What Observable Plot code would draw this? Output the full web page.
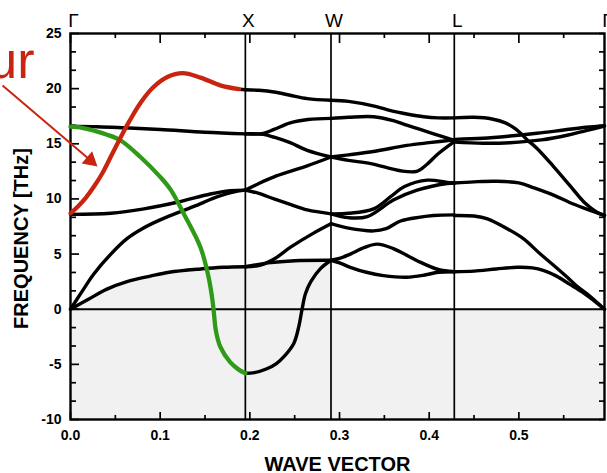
<!DOCTYPE html>
<html><head><meta charset="utf-8">
<script src="https://cdn.jsdelivr.net/npm/d3@7"></script>
<script src="https://cdn.jsdelivr.net/npm/@observablehq/plot@0.6"></script>
<style>html,body{margin:0;padding:0;background:#fff}svg{display:block}</style>
</head><body><div id="chart"></div>
<script>
// ---- axis / labels ----
const symLabels = ["Γ", "X", "W", "L", "Γ"];
const symX = [0, 0.195, 0.2905, 0.428, 0.5955];
const xDomain = [0, 0.5955];
const yDomain = [-10, 25];
const xLabelTicks = [0, 0.1, 0.2, 0.3, 0.4, 0.5];
const xMinorTicks = [0.05, 0.15, 0.25, 0.35, 0.45, 0.55];
const yLabelTicks = [-10, -5, 0, 5, 10, 15, 20, 25];
const yMinorTicks = [-25/3, -20/3, -10/3, -5/3, 5/3, 10/3, 20/3, 25/3, 35/3, 40/3, 50/3, 55/3, 65/3, 70/3];
const xTitle = "WAVE VECTOR";
const yTitle = "FREQUENCY [THz]";

// ---- highlighted branches (Γ–X) ----
const redBranch = [[0,8.7],[0.008,9.3],[0.017,10.1],[0.026,11.1],[0.036,12.4],[0.046,14.0],[0.056,15.6],[0.066,17.1],[0.078,18.7],[0.092,20.1],[0.108,21.05],[0.125,21.4],[0.145,21.0],[0.167,20.3],[0.188,19.95]];
const greenBranch = [[0,16.55],[0.013,16.45],[0.026,16.2],[0.04,15.85],[0.056,15.3],[0.078,13.8],[0.1,12.0],[0.112,10.8],[0.126,8.7],[0.145,5.6],[0.154,2.9],[0.158,1.0],[0.160,-0.4],[0.162,-1.9],[0.167,-3.4],[0.178,-4.8],[0.188,-5.5],[0.195,-5.8]];

// ---- black branches ----
const gxTail = [[0.188,19.95],[0.195,19.9]];
const gxC = [[0,16.6],[0.03,16.55],[0.06,16.45],[0.1,16.3],[0.15,16.05],[0.195,15.9]];
const gxD = [[0,8.6],[0.045,8.7],[0.082,9.1],[0.119,9.7],[0.156,10.45],[0.178,10.75],[0.195,10.8]];
const gxE = [[0,0],[0.012,1.5],[0.026,3.2],[0.045,5.0],[0.063,6.4],[0.08,7.3],[0.1,8.1],[0.137,9.3],[0.164,10.2],[0.18,10.6],[0.195,10.8]];
const gxF = [[0,0],[0.02,0.9],[0.04,1.8],[0.063,2.5],[0.089,3.0],[0.11,3.35],[0.145,3.65],[0.17,3.8],[0.195,3.85]];

const xwTop = [[0.195,19.9],[0.21,19.85],[0.227,19.7],[0.245,19.4],[0.264,19.1],[0.2905,18.95]];
const xwUp = [[0.195,15.9],[0.215,15.95],[0.227,16.3],[0.245,16.9],[0.265,17.2],[0.2905,17.3]];
const xwDown = [[0.195,15.9],[0.215,15.85],[0.227,15.6],[0.245,15.1],[0.264,14.4],[0.2905,13.8]];
const xwRise = [[0.195,10.8],[0.21,11.4],[0.227,12.0],[0.245,12.5],[0.264,13.0],[0.2905,13.8]];
const xwFall = [[0.195,10.8],[0.21,10.5],[0.227,10.0],[0.245,9.5],[0.264,9.0],[0.2905,8.65]];
const xwMid = [[0.195,3.85],[0.212,4.0],[0.228,4.6],[0.245,5.6],[0.271,6.9],[0.2905,7.75]];
const xwFlat = [[0.195,3.85],[0.22,4.2],[0.25,4.4],[0.2905,4.44]];
const xwSoft = [[0.195,-5.8],[0.205,-5.75],[0.219,-5.4],[0.23,-4.9],[0.238,-4.3],[0.249,-3.1],[0.2545,-1.6],[0.258,-0.1],[0.262,1.4],[0.268,2.5],[0.279,3.7],[0.2905,4.44]];

const wlTop = [[0.2905,18.95],[0.31,18.85],[0.34,18.4],[0.357,18.0],[0.375,17.7],[0.394,17.45],[0.41,17.35],[0.428,17.35]];
const wl17 = [[0.2905,17.3],[0.31,17.4],[0.338,17.45],[0.36,17.1],[0.375,16.7],[0.39,16.3],[0.405,15.9],[0.428,15.3]];
const wl13up = [[0.2905,13.8],[0.31,14.0],[0.338,14.3],[0.375,14.85],[0.4,15.1],[0.428,15.35]];
const wl13dip = [[0.2905,13.8],[0.31,13.5],[0.335,13.2],[0.368,12.55],[0.386,12.5],[0.397,13.1],[0.41,14.1],[0.428,15.2]];
const wl8a = [[0.2905,8.65],[0.31,8.7],[0.338,9.1],[0.357,10.2],[0.372,11.1],[0.398,11.7],[0.42,11.5],[0.428,11.45]];
const wl8b = [[0.2905,8.65],[0.31,8.3],[0.331,8.4],[0.36,9.9],[0.3865,10.8],[0.42,11.4],[0.428,11.45]];
const wl7 = [[0.2905,7.75],[0.31,7.35],[0.338,7.1],[0.352,7.3],[0.368,8.0],[0.39,8.35],[0.405,8.5],[0.428,8.55]];
const wl4bump = [[0.2905,4.44],[0.3,4.6],[0.312,5.0],[0.328,5.6],[0.342,5.9],[0.36,5.5],[0.3865,4.4],[0.41,3.6],[0.428,3.4]];
const wl4low = [[0.2905,4.44],[0.3,4.2],[0.312,3.8],[0.33,3.35],[0.349,3.05],[0.375,2.9],[0.395,3.1],[0.41,3.35],[0.428,3.4]];

const lgTop = [[0.428,17.35],[0.45,17.4],[0.47,17.25],[0.485,16.9],[0.497,16.3],[0.51,15.3],[0.52,14.6],[0.538,13.0],[0.556,11.3],[0.574,9.6],[0.587,8.8],[0.5955,8.5]];
const lg15a = [[0.428,15.4],[0.46,15.5],[0.49,15.7],[0.52,15.95],[0.55,16.25],[0.575,16.5],[0.5955,16.65]];
const lg15b = [[0.428,15.15],[0.46,15.05],[0.49,15.1],[0.525,15.35],[0.555,15.8],[0.575,16.2],[0.5955,16.6]];
const lg11 = [[0.428,11.45],[0.45,11.55],[0.475,11.6],[0.5,11.45],[0.517,11.0],[0.54,10.3],[0.556,9.7],[0.575,9.1],[0.5955,8.5]];
const lg8 = [[0.428,8.5],[0.45,8.45],[0.465,8.2],[0.487,7.3],[0.505,6.4],[0.524,5.0],[0.54,3.9],[0.554,2.9],[0.566,2.0],[0.576,1.4],[0.5955,0]];
const lg3 = [[0.428,3.4],[0.45,3.45],[0.475,3.65],[0.498,3.8],[0.515,3.75],[0.528,3.5],[0.542,3.0],[0.556,2.3],[0.57,1.6],[0.58,1.0],[0.5955,0]];

// ---- annotation ----
const noteText = ["ur"];
const notePos = [[-0.0401, 20.92]];
const arrowFrom = [-0.0758, 20.29];
const arrowHead = [0.0222, 13.5];

// ---- build tables ----
const toRows = (id, pts) => pts.map(([x, y]) => ({id, x, y}));
const blackSets = {gxTail, gxC, gxD, gxE, gxF, xwTop, xwUp, xwDown, xwRise, xwFall, xwMid, xwFlat, xwSoft,
  wlTop, wl17, wl13up, wl13dip, wl8a, wl8b, wl7, wl4bump, wl4low, lgTop, lg15a, lg15b, lg11, lg8, lg3};
const blackRows = Object.entries(blackSets).flatMap(([k, v]) => toRows(k, v));
const redRows = toRows("red", redBranch);
const greenRows = toRows("green", greenBranch);
const shadeRows = [...toRows("s", gxF), ...toRows("s", xwFlat.slice(1))];

const H = 473, W = 607, mL = 70, mR = 3, mT = 33, mB = 54;
const plotH = H - mT - mB, plotW = W - mL - mR;
const RED = "#c9240f", GREEN = "#2f9a18";

const chart = Plot.plot({
  width: W, height: H,
  marginLeft: mL, marginRight: mR, marginTop: mT, marginBottom: mB,
  x: {domain: xDomain},
  y: {domain: yDomain},
  style: {fontFamily: "'Liberation Sans', Arial, sans-serif", background: "#fff", color: "#000", overflow: "visible"},
  marks: [
    Plot.areaY(xDomain.map(x => ({x})), {x: "x", y1: yDomain[0], y2: 0, fill: "#f1f1f1"}),
    Plot.areaY(shadeRows, {x: "x", y1: 0, y2: "y", fill: "#f1f1f1", curve: "catmull-rom"}),
    Plot.ruleY([0], {stroke: "#000", strokeWidth: 2}),
    Plot.ruleX(symX.slice(1, 4), {stroke: "#000", strokeWidth: 1.7}),
    // inward ticks
    Plot.ruleX(xLabelTicks, {x: d => d, insetTop: plotH - 7, strokeWidth: 1.7}),
    Plot.ruleX(xMinorTicks, {x: d => d, insetTop: plotH - 4, strokeWidth: 1.7}),
    Plot.ruleX(xLabelTicks, {x: d => d, insetBottom: plotH - 10, strokeWidth: 1.7}),
    Plot.ruleX(xMinorTicks, {x: d => d, insetBottom: plotH - 5, strokeWidth: 1.7}),
    Plot.ruleY(yLabelTicks, {y: d => d, insetRight: plotW - 9, strokeWidth: 1.7}),
    Plot.ruleY(yMinorTicks, {y: d => d, insetRight: plotW - 6, strokeWidth: 1.7}),
    Plot.ruleY([...yLabelTicks, ...yMinorTicks], {y: d => d, insetLeft: plotW - 5, strokeWidth: 1.7}),
    Plot.frame({stroke: "#000", strokeWidth: 2.4}),
    // branches
    Plot.line(blackRows, {x: "x", y: "y", z: "id", stroke: "#000", strokeWidth: 3.4, curve: "catmull-rom"}),
    Plot.line(greenRows, {x: "x", y: "y", stroke: GREEN, strokeWidth: 4.3, curve: "catmull-rom"}),
    Plot.line(redRows, {x: "x", y: "y", stroke: RED, strokeWidth: 4.3, curve: "catmull-rom"}),
    // axes
    Plot.axisX({anchor: "bottom", ticks: xLabelTicks, tickSize: 0, tickPadding: 11, tickFormat: d3.format(".1f"), fontSize: 14, fontWeight: "bold", label: null}),
    Plot.axisY({anchor: "left", ticks: yLabelTicks, tickSize: 0, tickPadding: 9, tickFormat: d => String(d), fontSize: 14, fontWeight: "bold", label: null}),
    Plot.text(symX.map((x, i) => ({x, t: symLabels[i]})), {x: "x", text: "t", frameAnchor: "top", lineAnchor: "middle", textAnchor: "middle", dy: -13, dx: 3, fontSize: 19}),
    Plot.text([xTitle], {frameAnchor: "bottom", lineAnchor: "middle", textAnchor: "middle", dy: 45, fontSize: 20, fontWeight: "bold"}),
    Plot.text([yTitle], {frameAnchor: "left", lineAnchor: "middle", textAnchor: "middle", dx: -49, dy: 12, rotate: -90, fontSize: 20, fontWeight: "bold"}),
    // annotation
    Plot.text(noteText.map((t, i) => ({t, x: notePos[i][0], y: notePos[i][1]})), {x: "x", y: "y", text: "t", textAnchor: "end", lineAnchor: "bottom", fontSize: 52, fill: RED}),
    Plot.link([{a: arrowFrom, b: arrowHead}], {x1: d => d.a[0], y1: d => d.a[1], x2: d => d.b[0], y2: d => d.b[1], stroke: RED, strokeWidth: 2}),
    Plot.dot([arrowHead], {x: d => d[0], y: d => d[1], symbol: "triangle", r: 6, rotate: 130.5, fill: RED, stroke: "none"})
  ]
});
document.getElementById("chart").append(chart);
</script>
</body></html>
